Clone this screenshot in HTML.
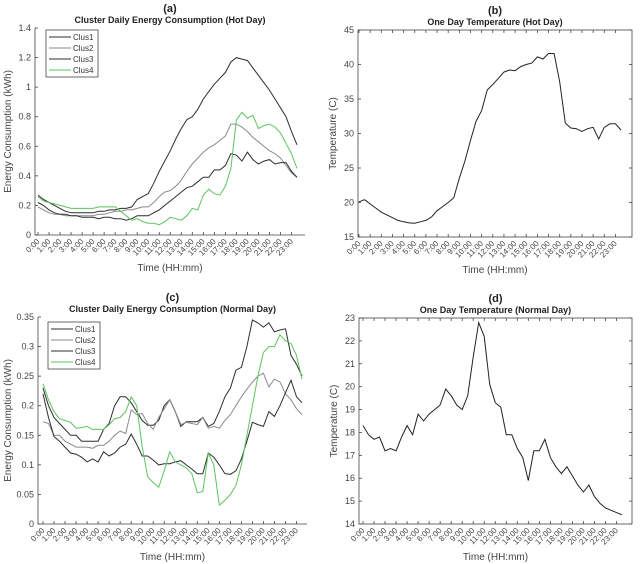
<!DOCTYPE html>
<html><head><meta charset="utf-8"><style>
body{margin:0;background:#fff}
svg{display:block;font-family:"Liberation Sans",sans-serif}
</style></head><body>
<svg id="fig" width="640" height="564" viewBox="0 0 640 564"></svg>
<script>
const hourLabels=["0:00","1:00","2:00","3:00","4:00","5:00","6:00","7:00","8:00","9:00","10:00","11:00","12:00","13:00","14:00","15:00","16:00","17:00","18:00","19:00","20:00","21:00","22:00","23:00"];
const seriesNames=["Clus1","Clus2","Clus3","Clus4"];
const hotClus1=[0.27,0.24,0.22,0.20,0.18,0.16,0.15,0.15,0.15,0.15,0.15,0.16,0.16,0.17,0.17,0.18,0.18,0.19,0.24,0.26,0.28,0.35,0.43,0.50,0.57,0.65,0.72,0.78,0.80,0.85,0.92,0.97,1.02,1.06,1.10,1.17,1.20,1.19,1.18,1.13,1.08,1.03,0.98,0.92,0.86,0.80,0.70,0.61];
const hotClus2=[0.19,0.17,0.15,0.14,0.14,0.13,0.13,0.13,0.13,0.13,0.13,0.14,0.14,0.15,0.16,0.16,0.17,0.17,0.18,0.19,0.19,0.22,0.26,0.29,0.30,0.33,0.37,0.43,0.48,0.52,0.56,0.59,0.61,0.64,0.67,0.75,0.75,0.73,0.70,0.66,0.63,0.60,0.57,0.55,0.52,0.47,0.42,0.39];
const hotClus3=[0.22,0.20,0.17,0.15,0.14,0.14,0.13,0.13,0.12,0.12,0.12,0.11,0.12,0.12,0.11,0.11,0.10,0.11,0.13,0.13,0.13,0.15,0.17,0.20,0.23,0.26,0.29,0.32,0.33,0.36,0.39,0.39,0.44,0.44,0.47,0.55,0.54,0.50,0.56,0.51,0.48,0.50,0.51,0.48,0.49,0.49,0.43,0.39];
const hotClus4=[0.26,0.23,0.22,0.21,0.20,0.19,0.18,0.18,0.18,0.18,0.18,0.19,0.19,0.19,0.19,0.16,0.13,0.10,0.11,0.09,0.08,0.08,0.07,0.09,0.12,0.11,0.10,0.13,0.18,0.17,0.27,0.31,0.28,0.27,0.33,0.45,0.78,0.83,0.79,0.81,0.72,0.74,0.75,0.73,0.69,0.62,0.55,0.45];
const normClus1=[0.23,0.20,0.18,0.17,0.16,0.15,0.15,0.14,0.14,0.14,0.14,0.16,0.17,0.20,0.215,0.215,0.205,0.19,0.175,0.167,0.167,0.175,0.2,0.21,0.19,0.165,0.173,0.173,0.173,0.18,0.165,0.17,0.19,0.215,0.23,0.26,0.265,0.3,0.345,0.34,0.333,0.34,0.325,0.328,0.33,0.285,0.27,0.25];
const normClus2=[0.173,0.17,0.15,0.15,0.14,0.135,0.13,0.13,0.13,0.128,0.133,0.133,0.14,0.15,0.157,0.153,0.193,0.185,0.187,0.17,0.16,0.18,0.195,0.21,0.19,0.168,0.172,0.17,0.168,0.18,0.162,0.165,0.162,0.175,0.185,0.2,0.215,0.228,0.24,0.25,0.255,0.232,0.245,0.24,0.22,0.21,0.195,0.185];
const normClus3=[0.22,0.18,0.148,0.14,0.13,0.12,0.118,0.113,0.105,0.11,0.105,0.122,0.115,0.12,0.13,0.135,0.152,0.135,0.115,0.115,0.108,0.1,0.102,0.102,0.105,0.107,0.1,0.093,0.085,0.085,0.12,0.113,0.1,0.085,0.084,0.09,0.11,0.14,0.172,0.168,0.165,0.19,0.182,0.2,0.222,0.243,0.215,0.205];
const normClus4=[0.237,0.21,0.19,0.178,0.175,0.172,0.162,0.163,0.165,0.16,0.16,0.16,0.168,0.178,0.18,0.19,0.215,0.2,0.13,0.08,0.07,0.062,0.09,0.122,0.105,0.1,0.095,0.085,0.053,0.055,0.12,0.1,0.032,0.04,0.05,0.065,0.1,0.15,0.2,0.25,0.29,0.3,0.3,0.32,0.31,0.305,0.285,0.245];
const hotTemp=[20.1,20.4,19.8,19.2,18.6,18.2,17.8,17.4,17.2,17.05,17.0,17.2,17.4,17.9,18.8,19.4,20.0,20.7,23.5,26.0,29.0,31.8,33.3,36.3,37.1,38.0,38.9,39.2,39.1,39.7,40.0,40.2,41.1,40.8,41.6,41.6,37.5,31.5,30.8,30.7,30.3,30.7,30.9,29.2,30.9,31.4,31.4,30.5];
const normTemp=[18.3,17.9,17.7,17.8,17.2,17.3,17.2,17.8,18.3,17.9,18.8,18.5,18.8,19.0,19.2,19.9,19.6,19.2,19.0,19.6,21.3,22.8,22.2,20.1,19.3,19.1,17.9,17.9,17.3,16.9,15.9,17.2,17.2,17.7,16.9,16.5,16.2,16.5,16.1,15.7,15.4,15.7,15.2,14.9,14.7,14.6,14.5,14.4];
const hotTicks=[0,0.2,0.4,0.6,0.8,1,1.2,1.4];
const normTicks=[0,0.05,0.1,0.15,0.2,0.25,0.3,0.35];
const hotTempTicks=[15,20,25,30,35,40,45];
const normTempTicks=[14,15,16,17,18,19,20,21,22,23];

const NS="http://www.w3.org/2000/svg";
const fig=document.getElementById('fig');
function mk(tag,attrs,parent){const e=document.createElementNS(NS,tag);for(const k in attrs)e.setAttribute(k,attrs[k]);(parent||fig).appendChild(e);return e;}
const colors=["#2e2e2e","#8a8a8a","#2e2e2e","#5cc45c"];

function panel(p){
  const g=mk('g',{});
  
  
  const xs=h=>p.x0+(p.x1-p.x0)*h/23.5;
  const ys=v=>p.bot-(v-p.ymin)/(p.ymax-p.ymin)*(p.bot-p.top);
  // axes
  if(p.box){
    const r=mk('rect',{x:p.L,y:p.top,width:p.R-p.L,height:p.bot-p.top,fill:'none',stroke:'#444','stroke-width':0.8},g);
    
    
  }else{
    const a=mk('path',{d:`M${p.L},${p.top}V${p.bot}H${p.R}`,fill:'none',stroke:'#444','stroke-width':0.8},g);
    
    
  }
  // y ticks
  p.yt.forEach(v=>{
    const y=ys(v);
    mk('line',{x1:p.L,x2:p.L+3,y1:y,y2:y,stroke:'#444','stroke-width':0.8},g);
    if(p.box)mk('line',{x1:p.R,x2:p.R-3,y1:y,y2:y,stroke:'#444','stroke-width':0.8},g);
    const t=mk('text',{x:p.L-4,y:y+3,'text-anchor':'end','font-size':9,fill:'#444'},g);
    t.textContent=String(v);
    
    
  });
  // x ticks
  hourLabels.forEach((lab,i)=>{
    const x=xs(i);
    mk('line',{x1:x,x2:x,y1:p.bot,y2:p.bot-3,stroke:'#444','stroke-width':0.8},g);
    if(p.box)mk('line',{x1:x,x2:x,y1:p.top,y2:p.top+3,stroke:'#444','stroke-width':0.8},g);
    const t=mk('text',{x:x+2,y:p.bot+7,'text-anchor':'end','font-size':8,fill:'#444',transform:`rotate(-45 ${x+2} ${p.bot+7})`},g);
    t.textContent=lab;
    
    
  });
  // series
  p.series.forEach((s,si)=>{
    const d=s.map((v,i)=>(i?'L':'M')+xs(i*0.5).toFixed(1)+','+ys(v).toFixed(1)).join('');
    const l=mk('path',{d:d,fill:'none',stroke:p.colors[si],'stroke-width':1},g);
    
    
  });
  const cx=(p.L+p.R)/2;
  const t1=mk('text',{x:cx,y:p.top-16,'text-anchor':'middle','font-size':11,'font-weight':'bold',fill:'#222'},g);
  t1.textContent=p.letter;
  
  
  const t2=mk('text',{x:cx,y:p.top-5,'text-anchor':'middle','font-size':9,'font-weight':'bold',fill:'#222'},g);
  t2.textContent=p.title;
  
  
  const xt=mk('text',{x:cx,y:p.bot+36,'text-anchor':'middle','font-size':10,fill:'#444'},g);
  xt.textContent='Time (HH:mm)';
  
  
  const yc=(p.top+p.bot)/2;const yx=p.L-p.ylabOff;
  const yt=mk('text',{x:yx,y:yc,'text-anchor':'middle','font-size':10,fill:'#444',transform:`rotate(-90 ${yx} ${yc})`},g);
  yt.textContent=p.ylab;
  
  
  if(p.legend){
    const lg=mk('g',{},g);
    
    
    const lx=p.legend[0],ly=p.legend[1];
    mk('rect',{x:lx,y:ly,width:52,height:47,fill:'#fff',stroke:'#444','stroke-width':0.8},lg);
    seriesNames.forEach((n,i)=>{
      const yy=ly+7+i*11;
      const e=mk('g',{},lg);
      
      
      mk('line',{x1:lx+3,x2:lx+25,y1:yy,y2:yy,stroke:colors[i],'stroke-width':1},e);
      const tt=mk('text',{x:lx+27,y:yy+3,'font-size':8,fill:'#333'},e);
      tt.textContent=n;
    });
  }
}
panel({name:'panel-a-hot-energy',letter:'(a)',title:'Cluster Daily Energy Consumption (Hot Day)',L:35,R:305,top:28,bot:235,x0:38,x1:297,ymin:0,ymax:1.4,yt:hotTicks,series:[hotClus1,hotClus2,hotClus3,hotClus4],colors:colors,snames:['line-clus1','line-clus2','line-clus3','line-clus4'],ylab:'Energy Consumption (kWh)',ylabOff:24,legend:[46,30],box:false});
panel({name:'panel-b-hot-temp',letter:'(b)',title:'One Day Temperature (Hot Day)',L:358,R:632,top:30,bot:237,x0:359,x1:621,ymin:15,ymax:45,yt:hotTempTicks,series:[hotTemp],colors:['#222'],snames:['temperature-line'],ylab:'Temperature (C)',ylabOff:22,box:true});
panel({name:'panel-c-normal-energy',letter:'(c)',title:'Cluster Daily Energy Consumption (Normal Day)',L:38,R:307,top:317,bot:524,x0:43,x1:302,ymin:0,ymax:0.35,yt:normTicks,series:[normClus1,normClus2,normClus3,normClus4],colors:colors,snames:['line-clus1','line-clus2','line-clus3','line-clus4'],ylab:'Energy Consumption (kWh)',ylabOff:27,legend:[48,322],box:false});
panel({name:'panel-d-normal-temp',letter:'(d)',title:'One Day Temperature (Normal Day)',L:359,R:632,top:318,bot:524,x0:363,x1:622,ymin:14,ymax:23,yt:normTempTicks,series:[normTemp],colors:['#222'],snames:['temperature-line'],ylab:'Temperature (C)',ylabOff:22,box:true});
</script>
</body></html>
